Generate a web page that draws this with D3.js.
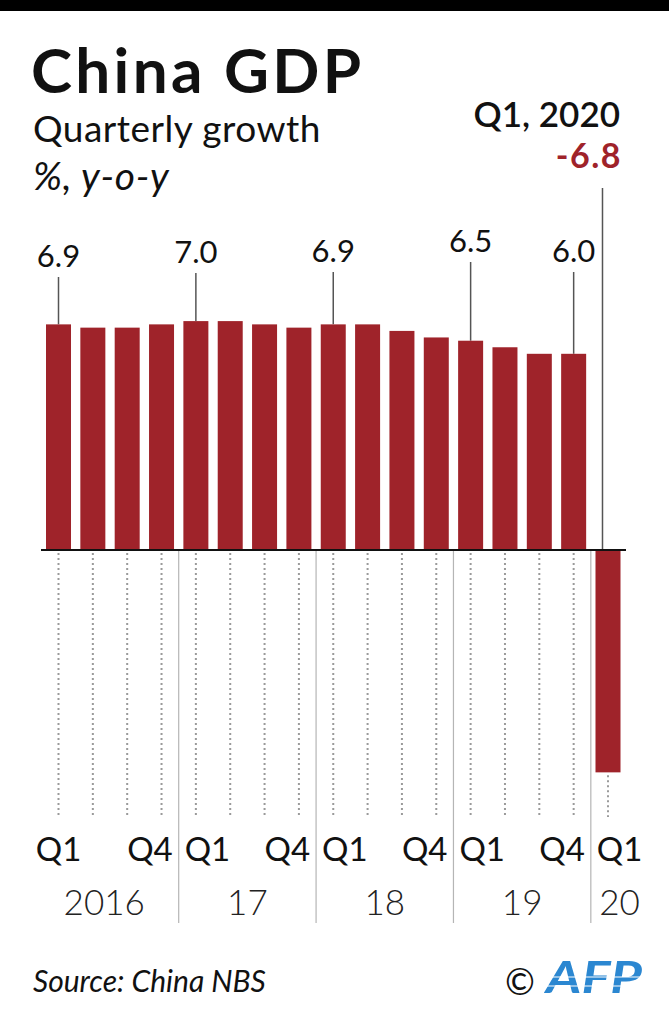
<!DOCTYPE html>
<html>
<head>
<meta charset="utf-8">
<script src="https://cdn.jsdelivr.net/npm/d3@7"></script>
<style>
  body { margin: 0; background: #fff; }
  svg text { font-family: Lato, "Noto Sans", sans-serif; }
</style>
</head>
<body>
<script>
// data
var quarters = ["Q1","Q2","Q3","Q4","Q1","Q2","Q3","Q4","Q1","Q2","Q3","Q4","Q1","Q2","Q3","Q4","Q1"];
var years    = ["2016","2016","2016","2016","2017","2017","2017","2017","2018","2018","2018","2018","2019","2019","2019","2019","2020"];
var growth   = [6.9, 6.8, 6.8, 6.9, 7.0, 7.0, 6.9, 6.8, 6.9, 6.9, 6.7, 6.5, 6.4, 6.2, 6.0, 6.0, -6.8];
var yearLabels = {"2016": "2016", "2017": "17", "2018": "18", "2019": "19", "2020": "20"};
var callouts = [
  {key: "2016Q1", text: "6.9"},
  {key: "2017Q1", text: "7.0"},
  {key: "2018Q1", text: "6.9"},
  {key: "2019Q1", text: "6.5"},
  {key: "2019Q4", text: "6.0"}
];
var highlight = {key: "2020Q1", title: "Q1, 2020", text: "-6.8"};

// layout
var calloutBaseline = {"2016Q1": 267, "2017Q1": 263, "2018Q1": 262, "2019Q1": 252, "2019Q4": 262};
var barColor = "#9f232a";

var keys = years.map(function(d, i) { return d + quarters[i]; });
var data = keys.map(function(k, i) {
  return {key: k, year: years[i], q: quarters[i], value: growth[i]};
});

var svg = d3.select("body").append("svg")
  .attr("width", 669)
  .attr("height", 1024);

svg.append("rect")
  .attr("x", 0).attr("y", 0)
  .attr("width", 669).attr("height", 11)
  .attr("fill", "#000");

var x = d3.scaleBand()
  .domain(keys)
  .range([46, 620.5])
  .paddingInner(0.272)
  .paddingOuter(0);

var y = d3.scaleLinear()
  .domain([0, 7])
  .range([550, 321.1]);

var bw = x.bandwidth();
function cx(k) { return x(k) + bw / 2; }

// titles
svg.append("text")
  .attr("x", 31).attr("y", 93)
  .attr("font-size", 62).attr("font-weight", 700)
  .attr("letter-spacing", 3.3)
  .attr("fill", "#111")
  .text("China GDP");

svg.append("text")
  .attr("x", 33).attr("y", 141.5)
  .attr("font-size", 37)
  .attr("letter-spacing", 0.5)
  .attr("fill", "#111")
  .text("Quarterly growth");

svg.append("text")
  .attr("x", 33).attr("y", 190)
  .attr("font-size", 39).attr("font-style", "italic")
  .attr("letter-spacing", 0.7)
  .attr("fill", "#111")
  .text("%, y-o-y");

// dotted guides under each bar
svg.append("g")
  .selectAll("line")
  .data(data)
  .enter()
  .append("line")
  .attr("x1", function(d) { return cx(d.key); })
  .attr("x2", function(d) { return cx(d.key); })
  .attr("y1", function(d) { return d.value < 0 ? y(d.value) + 3 : y(0) + 3; })
  .attr("y2", 817)
  .attr("stroke", "#9a9a9a")
  .attr("stroke-width", 2)
  .attr("stroke-dasharray", "2,3");

// year separators
var breaks = data.filter(function(d, i) { return i > 0 && d.year != data[i - 1].year; })
  .map(function(d) {
    var i = keys.indexOf(d.key);
    return (x(keys[i - 1]) + bw + x(d.key)) / 2;
  });

svg.append("g")
  .selectAll("line")
  .data(breaks)
  .enter()
  .append("line")
  .attr("x1", function(d) { return d; })
  .attr("x2", function(d) { return d; })
  .attr("y1", y(0))
  .attr("y2", 923)
  .attr("stroke", "#b5b5b5")
  .attr("stroke-width", 1.2);

// callout leader lines
svg.append("g")
  .selectAll("line")
  .data(callouts)
  .enter()
  .append("line")
  .attr("x1", function(d) { return cx(d.key); })
  .attr("x2", function(d) { return cx(d.key); })
  .attr("y1", function(d) { return calloutBaseline[d.key] + 10; })
  .attr("y2", function(d) { return y(growth[keys.indexOf(d.key)]); })
  .attr("stroke", "#555")
  .attr("stroke-width", 1.5);

svg.append("g")
  .selectAll("text")
  .data(callouts)
  .enter()
  .append("text")
  .attr("x", function(d) { return cx(d.key); })
  .attr("y", function(d) { return calloutBaseline[d.key]; })
  .attr("text-anchor", "middle")
  .attr("font-size", 31)
  .attr("fill", "#111")
  .text(function(d) { return d.text; });

// highlight callout for the last quarter
svg.append("line")
  .attr("x1", x(highlight.key) + 7)
  .attr("x2", x(highlight.key) + 7)
  .attr("y1", 188)
  .attr("y2", y(0))
  .attr("stroke", "#555")
  .attr("stroke-width", 1.5);

svg.append("text")
  .attr("x", 620).attr("y", 127)
  .attr("text-anchor", "end")
  .attr("font-size", 35).attr("font-weight", 600)
  .attr("fill", "#111")
  .text(highlight.title);

svg.append("text")
  .attr("x", 622).attr("y", 168)
  .attr("text-anchor", "end")
  .attr("font-size", 34).attr("font-weight", 700)
  .attr("letter-spacing", 1.5)
  .attr("fill", barColor)
  .text(highlight.text);

// bars
svg.append("g")
  .selectAll("rect")
  .data(data)
  .enter()
  .append("rect")
  .attr("x", function(d) { return x(d.key); })
  .attr("y", function(d) { return Math.min(y(d.value), y(0)); })
  .attr("width", bw)
  .attr("height", function(d) { return Math.abs(y(d.value) - y(0)); })
  .attr("fill", barColor);

// zero line
svg.append("line")
  .attr("x1", 41).attr("x2", 626)
  .attr("y1", y(0)).attr("y2", y(0))
  .attr("stroke", "#111")
  .attr("stroke-width", 2);

// quarter labels: Q1 and Q4 only, pushed away from the year separators
var qLabels = data.filter(function(d) { return d.q == "Q1" || d.q == "Q4"; });
function qPos(d) {
  var i = keys.indexOf(d.key);
  if (i == 0) return {x: cx(d.key), anchor: "middle"};
  if (d.q == "Q4") return {x: (x(d.key) + bw + x(keys[i + 1])) / 2 - 6, anchor: "end"};
  return {x: (x(keys[i - 1]) + bw + x(d.key)) / 2 + 6, anchor: "start"};
}

svg.append("g")
  .selectAll("text")
  .data(qLabels)
  .enter()
  .append("text")
  .attr("x", function(d) { return qPos(d).x; })
  .attr("y", 861)
  .attr("text-anchor", function(d) { return qPos(d).anchor; })
  .attr("font-size", 33)
  .attr("fill", "#111")
  .text(function(d) { return d.q; })
  .each(function(d) {
    d.bbox = this.getBBox();
  });

// year labels centred under their quarter labels
var yearKeys = Object.keys(yearLabels);
var yearPos = yearKeys.map(function(yr) {
  var boxes = qLabels.filter(function(d) { return d.year == yr; }).map(function(d) { return d.bbox; });
  var lo = d3.min(boxes, function(b) { return b.x; });
  var hi = d3.max(boxes, function(b) { return b.x + b.width; });
  return {label: yearLabels[yr], x: (lo + hi) / 2};
});

svg.append("g")
  .selectAll("text")
  .data(yearPos)
  .enter()
  .append("text")
  .attr("x", function(d) { return d.x; })
  .attr("y", 915)
  .attr("text-anchor", "middle")
  .attr("font-size", 35)
  .attr("font-weight", 300)
  .attr("fill", "#222")
  .text(function(d) { return d.label; });

// footer
svg.append("text")
  .attr("x", 33).attr("y", 992)
  .attr("font-size", 30).attr("font-style", "italic")
  .attr("fill", "#111")
  .text("Source: China NBS");

svg.append("text")
  .attr("x", 505).attr("y", 995)
  .attr("font-family", "DejaVu Sans")
  .attr("font-size", 36)
  .attr("fill", "#111")
  .text("\u00a9");

svg.append("text")
  .attr("x", 546).attr("y", 993)
  .attr("font-family", "Liberation Sans")
  .attr("font-size", 44).attr("font-weight", 700).attr("font-style", "italic")
  .attr("textLength", 96)
  .attr("lengthAdjust", "spacingAndGlyphs")
  .attr("fill", "#2b87d1")
  .text("AFP");

svg.append("g")
  .selectAll("line")
  .data([977, 986])
  .enter()
  .append("line")
  .attr("x1", 540).attr("x2", 645)
  .attr("y1", function(d) { return d; })
  .attr("y2", function(d) { return d; })
  .attr("stroke", "#fff")
  .attr("stroke-width", 1.2);
</script>
</body>
</html>
